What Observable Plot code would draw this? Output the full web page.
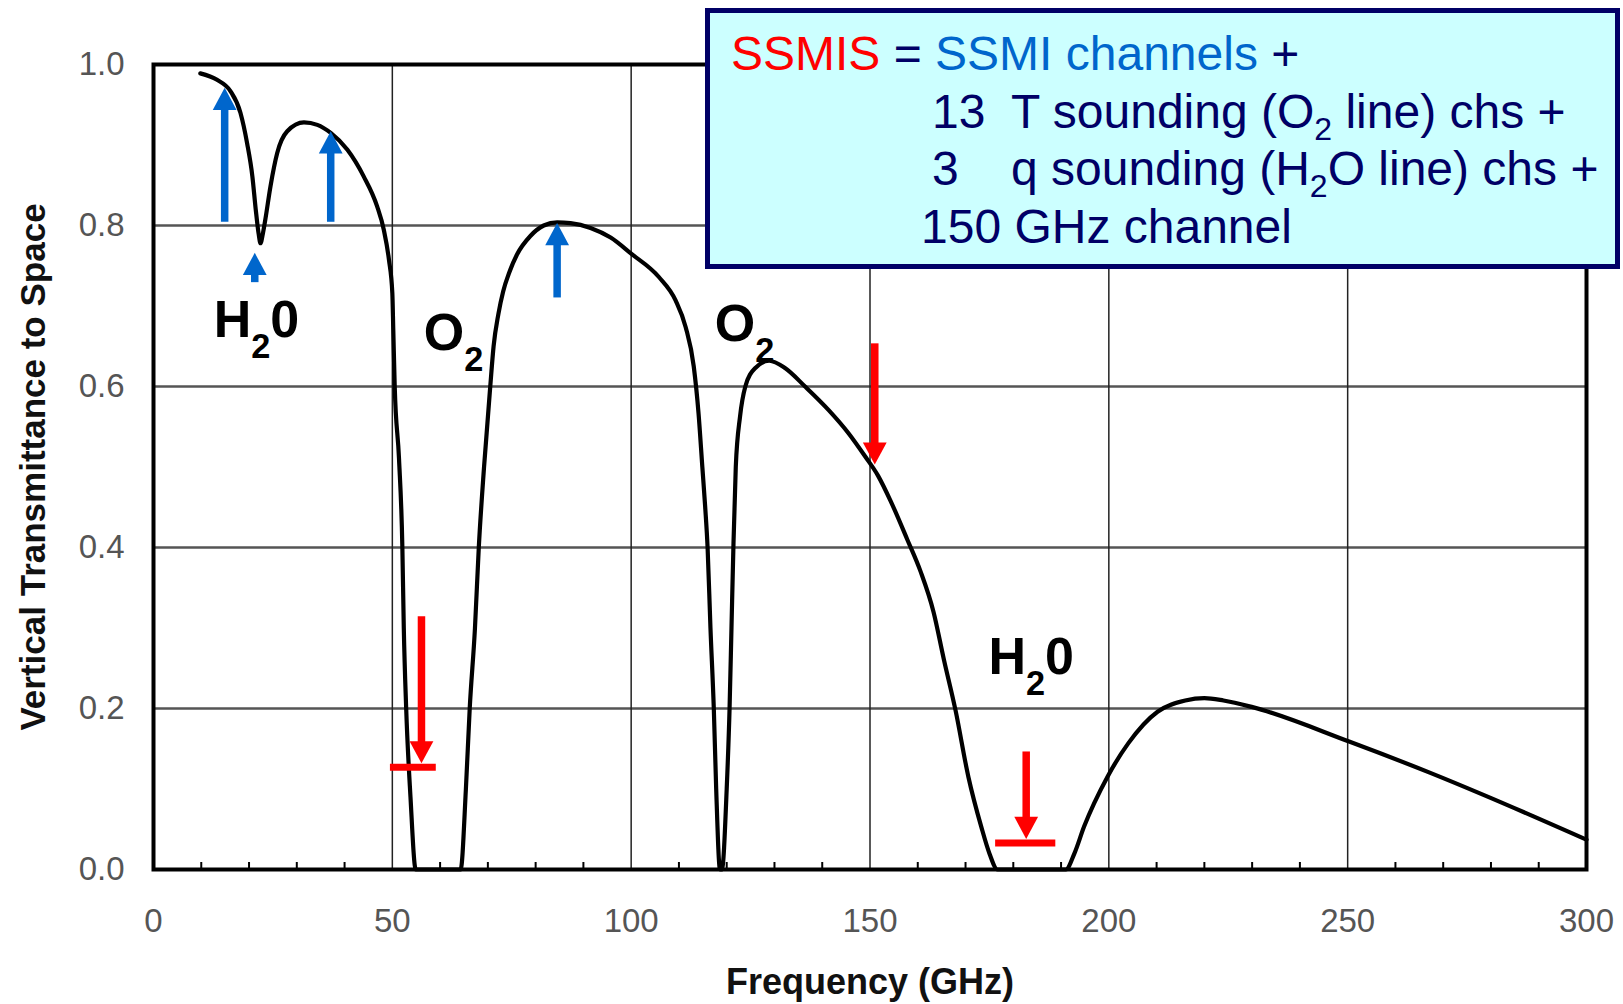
<!DOCTYPE html>
<html>
<head>
<meta charset="utf-8">
<script src="https://cdn.jsdelivr.net/npm/d3@7"></script>
<script src="https://cdn.jsdelivr.net/npm/@observablehq/plot@0.6"></script>
<style>
  html, body { margin: 0; padding: 0; background: #fff; }
  #chart svg { display: block; }
  g[aria-label="y-axis tick label"], g[aria-label="x-axis tick label"] { fill: #555; }
</style>
</head>
<body>
<div id="chart"></div>
<script>
// ---- Data ----
const freq = [9.8, 13.3, 16.1, 18.2, 19.6, 20.7, 21.4, 22.0, 22.4, 22.9, 23.4, 24.5, 25.9, 28.0, 31.5, 34.3, 37.1, 40.6, 44.0, 46.8,
  48.2, 49.3, 50.0, 50.2, 50.5, 51.4, 52.1, 52.4, 52.9, 53.8, 54.9, 64.3, 65.4, 66.2, 67.3, 68.1, 69.2, 70.5, 71.2, 72.2, 73.2,
  74.5, 76.1, 78.9, 81.7, 84.5, 87.3, 91.5, 95.7, 100.0, 105.8, 109.3, 111.4, 113.1, 114.1, 114.9, 115.5, 116.0, 116.6, 117.3, 117.8, 118.6,
  119.0, 120.0, 120.6, 121.0, 121.4, 121.9, 122.8, 123.9, 126.0, 128.9, 132.2, 136.4, 141.3, 145.5, 149.0, 151.7, 154.3, 157.8, 160.6, 163.3, 165.5,
  167.9, 170.6, 173.3, 175.0, 176.7, 191.0, 192.8, 194.8, 199.7, 204.1, 210.2, 216.0, 220.0, 224.0, 229.9, 250.3, 267.3, 278.3, 300];
const transmittance = [0.989, 0.981, 0.967, 0.94, 0.902, 0.861, 0.82, 0.79, 0.778, 0.79, 0.807, 0.849, 0.89, 0.917, 0.928, 0.925, 0.915, 0.894, 0.861, 0.824,
  0.795, 0.757, 0.716, 0.67, 0.6, 0.51, 0.4, 0.3, 0.2, 0.09, 0, 0, 0.1, 0.2, 0.3, 0.4, 0.5, 0.6, 0.65, 0.69, 0.718,
  0.742, 0.764, 0.787, 0.8, 0.804, 0.803, 0.797, 0.785, 0.765, 0.736, 0.707, 0.674, 0.625, 0.567, 0.5, 0.45, 0.4, 0.3, 0.2, 0.1, 0,
  0, 0.1, 0.2, 0.3, 0.4, 0.5, 0.563, 0.6, 0.623, 0.632, 0.623, 0.6, 0.571, 0.542, 0.513, 0.489, 0.458, 0.41, 0.37, 0.32, 0.26,
  0.198, 0.115, 0.053, 0.02, 0, 0, 0.02, 0.053, 0.115, 0.157, 0.196, 0.21, 0.213, 0.21, 0.202, 0.159, 0.12, 0.093, 0.037];

// SSMI channel arrows (blue, pointing up)
const blueX = [14.9, 21.2, 37.1, 84.5];
const blueTail = [0.804, 0.729, 0.804, 0.710];
const blueTip = [0.971, 0.766, 0.917, 0.803];

// SSMIS additional channel arrows (red, pointing down)
const redX = [56.1, 151.0, 182.7];
const redTail = [0.314, 0.653, 0.146];
const redTip = [0.132, 0.503, 0.038];

// red bars (band markers)
const barY = [0.127, 0.033];
const barX1 = [49.6, 176.3];
const barX2 = [59.2, 188.9];

// absorption line labels
const lineLabels = ["H₂0", "O₂", "O₂", "H₂0"];
const lineLabelX = [12.6, 56.6, 117.5, 174.8];
const lineLabelY = [0.661, 0.645, 0.656, 0.243];

// ticks
const xTicks = [0, 50, 100, 150, 200, 250, 300];
const yTicks = [0, 0.2, 0.4, 0.6, 0.8, 1.0];
const xGrid = [50, 100, 150, 200, 250];
const yGrid = [0.2, 0.4, 0.6, 0.8];
const xMinor = [10, 20, 30, 40, 60, 70, 80, 90, 110, 120, 130, 140, 160, 170, 180, 190, 210, 220, 230, 240, 260, 270, 280, 290];

// titles
const xTitle = "Frequency (GHz)";
const yTitle = "Vertical Transmittance to Space";

// info box text
const boxRow1 = [["SSMIS", "red"], [" = ", "navy"], ["SSMI channels", "blue"], [" +", "navy"]];
const boxRow2Num = "13";
const boxRow2Text = ["T sounding (O", "2", " line) chs +"];
const boxRow3Num = "3";
const boxRow3Text = ["q sounding (H", "2", "O line) chs +"];
const boxRow4 = "150 GHz channel";

// ---- Build ----
const FONT = "'Liberation Sans', Arial, Helvetica, sans-serif";
const colors = {red: "#ff0000", navy: "#000066", blue: "#0066cc"};

const curve = freq.map((f, i) => ({f, t: transmittance[i]}));
const blue = blueX.map((x, i) => ({x, tail: blueTail[i], tip: blueTip[i]}));
const red = redX.map((x, i) => ({x, tail: redTail[i], tip: redTip[i]}));
const bars = barY.map((y, i) => ({y, x1: barX1[i], x2: barX2[i]}));
const labels = lineLabels.map((t, i) => ({t, x: lineLabelX[i], y: lineLabelY[i]}));

const arrowHead = {
  draw(context, size) {
    const r = Math.sqrt(size / Math.PI);
    const hw = r * 1.4, h = r * 2.6;
    context.moveTo(0, 0);
    context.lineTo(hw, h);
    context.lineTo(-hw, h);
    context.closePath();
  }
};

const chart = Plot.plot({
  width: 1623,
  height: 1004,
  marginLeft: 153,
  marginRight: 37,
  marginTop: 64,
  marginBottom: 135,
  style: {fontFamily: FONT, background: "white", color: "black"},
  x: {domain: [0, 300], label: null},
  y: {domain: [0, 1], label: null},
  marks: [
    Plot.gridY(yGrid, {stroke: "#555", strokeOpacity: 1, strokeWidth: 2.5}),
    Plot.gridX(xGrid, {stroke: "#222", strokeOpacity: 1, strokeWidth: 1.5}),
    Plot.ruleX(xMinor, {x: d => d, y1: 0, y2: 0, insetTop: -7, stroke: "black", strokeWidth: 2}),
    Plot.line(curve, {x: "f", y: "t", stroke: "black", strokeWidth: 4.2, curve: "monotone-x"}),
    Plot.axisY(yTicks, {tickSize: 0, tickPadding: 29, tickFormat: d3.format(".1f"), fontSize: 33, fill: "#555", label: null}),
    Plot.axisX(xTicks, {tickSize: 0, tickPadding: 39, tickFormat: d3.format("d"), fontSize: 33, fill: "#555", label: null}),
    Plot.text([xTitle], {frameAnchor: "bottom", dy: 124, text: d => d, fontSize: 36, fontWeight: "bold", fill: "#111"}),
    Plot.text([yTitle], {frameAnchor: "left", dx: -120, rotate: -90, textAnchor: "middle", text: d => d, fontSize: 35, fontWeight: "bold", fill: "#111"}),
    Plot.text(labels, {x: "x", y: "y", text: "t", textAnchor: "start", dy: -16.6, fontSize: 52, fontWeight: "bold", fill: "black", className: "chem"}),
    Plot.ruleX(blue, {x: "x", y1: "tip", y2: "tail", stroke: colors.blue, strokeWidth: 7.5, insetTop: 18}),
    Plot.dot(blue, {x: "x", y: "tip", symbol: arrowHead, r: 8.5, fill: colors.blue, stroke: null}),
    Plot.ruleX(red, {x: "x", y1: "tail", y2: "tip", stroke: colors.red, strokeWidth: 7.5, insetBottom: 18}),
    Plot.dot(red, {x: "x", y: "tip", symbol: arrowHead, r: 8.5, rotate: 180, fill: colors.red, stroke: null}),
    Plot.ruleY(bars, {y: "y", x1: "x1", x2: "x2", stroke: colors.red, strokeWidth: 7}),
    Plot.frame({stroke: "black", strokeWidth: 4})
  ]
});

document.getElementById("chart").append(chart);

// subscripts in the absorption line labels
d3.select(chart).selectAll("g.chem text").each(function () {
  const txt = this.textContent;
  const parts = txt.split("₂");
  const sel = d3.select(this);
  sel.text(null);
  sel.append("tspan").text(parts[0]);
  sel.append("tspan").attr("font-size", "0.66em").attr("dy", "0.6em").text("2");
  if (parts[1]) sel.append("tspan").attr("dy", "-0.4em").text(parts[1]);
});

// info box
const svg = d3.select(chart);
const box = svg.append("g")
  .attr("font-family", FONT).attr("font-size", 48)
  .attr("text-anchor", "start").style("white-space", "pre");
box.append("rect")
  .attr("x", 707.5).attr("y", 10.5).attr("width", 910).attr("height", 256)
  .attr("fill", "#ccffff").attr("stroke", colors.navy).attr("stroke-width", 5);

const r1 = box.append("text").attr("x", 731).attr("y", 70);
boxRow1.forEach(([t, c]) => r1.append("tspan").attr("fill", colors[c]).text(t));

function subRow(num, parts, y) {
  box.append("text").attr("x", 932).attr("y", y).attr("fill", colors.navy).text(num);
  const t = box.append("text").attr("x", 1011).attr("y", y).attr("fill", colors.navy);
  t.append("tspan").text(parts[0]);
  t.append("tspan").attr("font-size", 32).attr("dy", 12).text(parts[1]);
  t.append("tspan").attr("dy", -12).text(parts[2]);
}
subRow(boxRow2Num, boxRow2Text, 128);
subRow(boxRow3Num, boxRow3Text, 185);
box.append("text").attr("x", 921).attr("y", 243).attr("fill", colors.navy).text(boxRow4);
</script>
</body>
</html>
